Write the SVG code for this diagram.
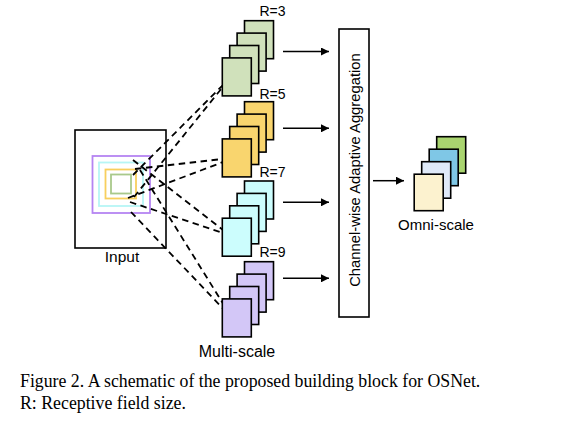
<svg xmlns="http://www.w3.org/2000/svg" width="566" height="421" viewBox="0 0 566 421">
<defs>
<marker id="ah" viewBox="0 0 10 10" refX="10" refY="5" markerWidth="10" markerHeight="8" markerUnits="userSpaceOnUse" orient="auto"><path d="M0,0 L10,5 L0,10 z" fill="#000"/></marker>
<style>
.card{stroke:#000;stroke-width:1.6}
.g{fill:#d0e1bb}.y{fill:#f9d56e}.c{fill:#ccfdfd}.p{fill:#d3c7f7}
.sans{font-family:"Liberation Sans",Arial,sans-serif;fill:#000}
.cap{font-family:"Liberation Serif","Times New Roman",serif;font-size:17.8px;fill:#000}
.dash{stroke:#000;stroke-width:1.8;stroke-dasharray:6.5 4.5;fill:none}
.arr{stroke:#000;stroke-width:1.5;fill:none;marker-end:url(#ah)}
</style>
</defs>
<rect width="566" height="421" fill="#fff"/>

<g id="input">
<rect x="75" y="130" width="91" height="118" fill="#fff" stroke="#000" stroke-width="1.6"/>
<rect x="92.5" y="156" width="57.5" height="57" fill="none" stroke="#b584f2" stroke-width="1.8"/>
<rect x="99" y="162.5" width="44" height="43.5" fill="none" stroke="#b6f6f6" stroke-width="1.8"/>
<rect x="105.5" y="169.5" width="30.5" height="29" fill="none" stroke="#f8cf5e" stroke-width="1.8"/>
<rect x="111" y="174.5" width="20" height="19" fill="none" stroke="#a9c98b" stroke-width="1.8"/>
<text class="sans" x="122" y="262" font-size="15.5" text-anchor="middle">Input</text>
</g>

<g id="connectors">
<line class="dash" x1="133" y1="175" x2="230" y2="78"/>
<line class="dash" x1="134" y1="197" x2="230" y2="78"/>
<line class="dash" x1="135" y1="169" x2="231" y2="158"/>
<line class="dash" x1="128" y1="198" x2="231" y2="159"/>
<line class="dash" x1="133" y1="160" x2="232" y2="237"/>
<line class="dash" x1="130" y1="202" x2="232" y2="236"/>
<line class="dash" x1="131" y1="212" x2="232" y2="318"/>
<line class="dash" x1="140" y1="170" x2="232" y2="318"/>
<line class="arr" x1="283" y1="51.5" x2="329" y2="51.5"/>
<line class="arr" x1="283" y1="128.3" x2="329" y2="128.3"/>
<line class="arr" x1="283" y1="202.3" x2="329" y2="202.3"/>
<line class="arr" x1="283" y1="278.3" x2="329" y2="278.3"/>
<line class="arr" x1="373" y1="180.7" x2="404" y2="180.7"/>
</g>

<g id="stack-r3">
<rect class="card g" x="244.5" y="20.7" width="29" height="38"/>
<rect class="card g" x="237.1" y="33.1" width="29" height="38"/>
<rect class="card g" x="229.7" y="45.5" width="29" height="38"/>
<rect class="card g" x="222.3" y="57.9" width="29" height="38"/>
<text class="sans" x="259.5" y="16" font-size="14">R=3</text>
</g>

<g id="stack-r5">
<rect class="card y" x="244.5" y="101.7" width="29" height="38"/>
<rect class="card y" x="237.1" y="114.1" width="29" height="38"/>
<rect class="card y" x="229.7" y="126.5" width="29" height="38"/>
<rect class="card y" x="222.3" y="138.9" width="29" height="38"/>
<text class="sans" x="259.5" y="98.5" font-size="14">R=5</text>
</g>

<g id="stack-r7">
<rect class="card c" x="244.5" y="181" width="29" height="38"/>
<rect class="card c" x="237.1" y="193.4" width="29" height="38"/>
<rect class="card c" x="229.7" y="205.8" width="29" height="38"/>
<rect class="card c" x="222.3" y="218.2" width="29" height="38"/>
<text class="sans" x="259.5" y="177" font-size="14">R=7</text>
</g>

<g id="stack-r9">
<rect class="card p" x="244.5" y="261.7" width="29" height="38"/>
<rect class="card p" x="237.1" y="274.1" width="29" height="38"/>
<rect class="card p" x="229.7" y="286.5" width="29" height="38"/>
<rect class="card p" x="222.3" y="298.9" width="29" height="38"/>
<text class="sans" x="259.5" y="257" font-size="14">R=9</text>
</g>

<text id="multi-scale" class="sans" x="237" y="357" font-size="16" text-anchor="middle">Multi-scale</text>

<g id="aggregation">
<rect x="339" y="29" width="30" height="288" fill="#fff" stroke="#000" stroke-width="1.6"/>
<text class="sans" transform="translate(359.5,170) rotate(-90)" font-size="14.8" text-anchor="middle">Channel-wise Adaptive Aggregation</text>
</g>

<g id="omni-scale">
<rect class="card" fill="#a9d46f" x="436.7" y="136.7" width="29" height="36.5"/>
<rect class="card" fill="#7fc7e6" x="429.2" y="149.2" width="29" height="36.5"/>
<rect class="card" fill="#dfe9f8" x="421.7" y="161.7" width="29" height="36.5"/>
<rect class="card" fill="#fcf2cf" x="414.2" y="174.2" width="29" height="36.5"/>
<text class="sans" x="436" y="230" font-size="15" text-anchor="middle">Omni-scale</text>
</g>

<g id="caption">
<text class="cap" x="20" y="387">Figure 2. A schematic of the proposed building block for OSNet.</text>
<text class="cap" x="20" y="409">R: Receptive field size.</text>
</g>
</svg>
